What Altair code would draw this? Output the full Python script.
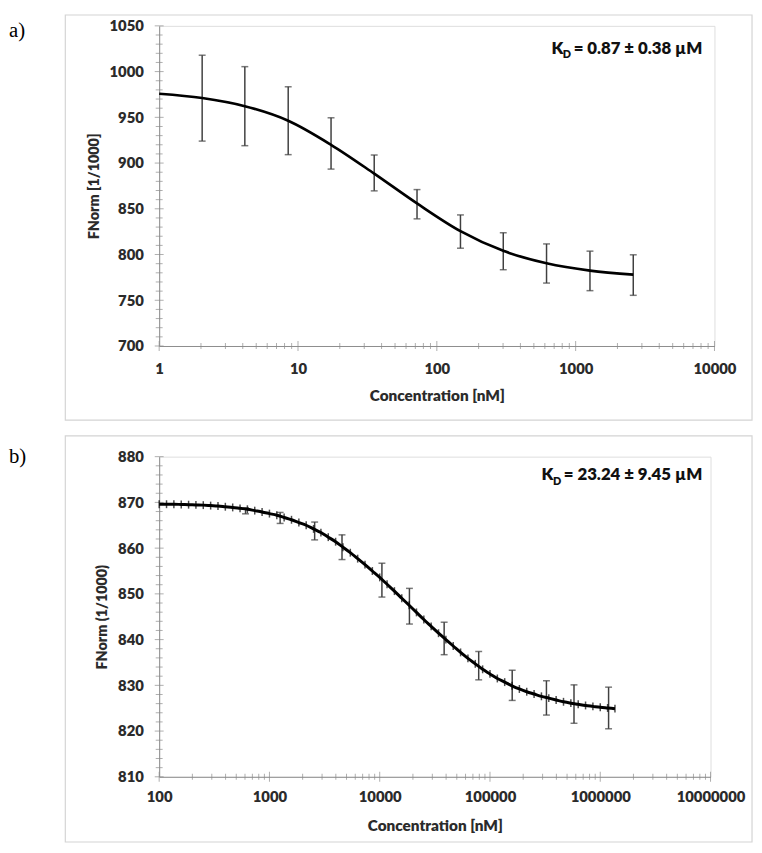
import altair as alt
import pandas as pd

# ---------------- Panel a data ----------------
a_conc = [2.04, 4.14, 8.5, 17.3, 35.4, 72, 148, 301, 617, 1268, 2600]
a_low = [924.0, 919.0, 909.2, 893.4, 869.6, 839.0, 806.9, 783.4, 768.8, 760.5, 755.4]
a_high = [1017.9, 1005.4, 983.4, 949.5, 908.8, 871.0, 843.3, 823.8, 811.6, 803.7, 799.7]
a_fit_x = [1, 2.04, 4.14, 8.5, 17.3, 35.4, 72, 148, 301, 617, 1268, 2600]
a_fit_y = [975.8, 971.1, 962.2, 946.3, 920.0, 888.5, 855.9, 825.6, 804.0, 790.4, 782.4, 778.1]

# ---------------- Panel b data ----------------
b_conc = [607, 1250, 2570, 4550, 10470, 18600, 38400, 79000, 159000, 325000, 578000, 1190000]
b_low = [867.5, 865.4, 861.8, 857.5, 849.3, 843.4, 836.7, 831.2, 826.7, 823.5, 821.7, 820.5]
b_high = [868.8, 867.8, 865.7, 862.9, 856.7, 851.2, 843.8, 837.4, 833.3, 831.0, 830.1, 829.6]
b_fit_x = [100, 116.6, 135.9, 158.5, 184.8, 215.4, 251.2, 292.9, 341.5, 398.1, 464.2, 541.2, 631.0, 735.6, 857.7,
           1000, 1166, 1359, 1585, 1848, 2154, 2512, 2929, 3415, 3981, 4642, 5412, 6310, 7356, 8577,
           10000, 11659, 13594, 15849, 18478, 21544, 25119, 29286, 34145, 39811, 46416, 54117, 63096, 73564, 85770,
           100000, 116590, 135940, 158490, 184780, 215440, 251190, 292860, 341450, 398110, 464160, 541170, 630960,
           735640, 857700, 1000000, 1165900, 1359400]
b_fit_y = [869.6, 869.6, 869.6, 869.55, 869.5, 869.45, 869.4, 869.3, 869.2, 869.05, 868.9, 868.7, 868.5, 868.2, 867.9,
           867.55, 867.2, 866.7, 866.2, 865.6, 865.0, 864.2, 863.4, 862.4, 861.4, 860.2, 859.0, 857.7, 856.4, 855.0,
           853.6, 852.1, 850.6, 849.05, 847.5, 845.95, 844.4, 842.9, 841.4, 840.0, 838.6, 837.2, 835.9, 834.7, 833.5,
           832.5, 831.5, 830.7, 829.9, 829.2, 828.6, 828.1, 827.6, 827.2, 826.8, 826.4, 826.1, 825.85, 825.6, 825.4,
           825.2, 825.05, 824.9]

# ---------------- Axis ticks ----------------
a_x_major = [1, 10, 100, 1000, 10000]
a_y_major = [700, 750, 800, 850, 900, 950, 1000, 1050]
b_x_major = [100, 1000, 10000, 100000, 1000000, 10000000]
b_y_major = [810, 820, 830, 840, 850, 860, 870, 880]

F = "Lato"
W = 800
TXT = "#2b2b2b"
AX = "#8c8c8c"
BAR = "#404040"
BOX = "#d4d4d4"


def minor_log(majors):
    out = []
    for m in majors[:-1]:
        for k in range(2, 10):
            out.append(m * k)
    return out


def minor_lin(majors, step):
    out = []
    for i in range(len(majors) - 1):
        v = majors[i] + step
        while v < majors[i + 1] - 1e-9:
            out.append(round(v, 6))
            v += step
    return out


def panel(conc, low, high, fit_x, fit_y, x_major, y_major, y_step, ytitle, kd, label,
          width, height, xlp, xtp, kd_x, kd_y, lab_y, curve_w, curve_ticks, box_top, box_bottom):
    xs = alt.Scale(type="log", domain=[x_major[0], x_major[-1]], nice=False)
    ys = alt.Scale(domain=[y_major[0], y_major[-1]], nice=False, zero=False)
    xaxis = alt.Axis(values=x_major, format="d", title="Concentration [nM]", ticks=False, grid=False,
                     domainColor=AX, domainWidth=1, labelFont=F, labelFontSize=15, labelFontWeight=W,
                     labelColor=TXT, labelPadding=xlp, titleFont=F, titleFontSize=15.5, titleFontWeight=W,
                     titleColor=TXT, titlePadding=xtp, labelFlush=False, labelOverlap=False)
    yaxis = alt.Axis(values=y_major, format="d", title=ytitle, ticks=False, grid=False,
                     domainColor=AX, domainWidth=1, labelFont=F, labelFontSize=15, labelFontWeight=W,
                     labelColor=TXT, labelPadding=16, titleFont=F, titleFontSize=14.5, titleFontWeight=W,
                     titleColor=TXT, titlePadding=8, labelOverlap=False)

    def X(f):
        return alt.X(f, type="quantitative", scale=xs, axis=xaxis)

    def Y(f):
        return alt.Y(f, type="quantitative", scale=ys, axis=yaxis)

    box = alt.Chart(alt.Data(values=[{}])).mark_rect(fillOpacity=0, stroke=BOX, strokeWidth=1.2).encode(
        x=alt.value(-95), x2=alt.value(600), y=alt.value(box_top), y2=alt.value(box_bottom))

    ymaj = pd.DataFrame({"x": [x_major[0]] * len(y_major), "y": y_major})
    ymin_vals = minor_lin(y_major, y_step)
    ymin = pd.DataFrame({"x": [x_major[0]] * len(ymin_vals), "y": ymin_vals})
    xmaj = pd.DataFrame({"x": x_major, "y": [y_major[0]] * len(x_major)})
    xmin_vals = minor_log(x_major)
    xmin = pd.DataFrame({"x": xmin_vals, "y": [y_major[0]] * len(xmin_vals)})

    t1 = alt.Chart(ymaj).mark_tick(orient="horizontal", size=9, thickness=1, color=AX).encode(x=X("x"), y=Y("y"))
    t2 = alt.Chart(ymin).mark_tick(orient="horizontal", size=7, thickness=1, color=AX).encode(x=X("x"), y=Y("y"))
    t3 = alt.Chart(xmaj).mark_tick(orient="vertical", size=10, thickness=1, color=AX).encode(x=X("x"), y=Y("y"))
    t4 = alt.Chart(xmin).mark_tick(orient="vertical", size=6, thickness=1, color=AX).encode(x=X("x"), y=Y("y"))

    eb = pd.DataFrame({"x": conc, "lo": low, "hi": high})
    rules = alt.Chart(eb).mark_rule(color=BAR, strokeWidth=1.5).encode(x=X("x"), y=Y("lo"), y2="hi")
    cap_lo = alt.Chart(eb).mark_tick(orient="horizontal", size=7, thickness=1.5, color=BAR).encode(x=X("x"), y=Y("lo"))
    cap_hi = alt.Chart(eb).mark_tick(orient="horizontal", size=7, thickness=1.5, color=BAR).encode(x=X("x"), y=Y("hi"))

    fit = pd.DataFrame({"x": fit_x, "y": fit_y})
    line = alt.Chart(fit).mark_line(color="black", strokeWidth=curve_w, interpolate="monotone").encode(
        x=X("x"), y=Y("y"))

    layers = [box, t1, t2, t3, t4, rules, cap_lo, cap_hi, line]
    if curve_ticks:
        layers.append(alt.Chart(fit).mark_tick(orient="vertical", size=8, thickness=1.5, color="black").encode(
            x=X("x"), y=Y("y")))

    k = alt.Chart(alt.Data(values=[{}])).mark_text(text="K", font=F, fontWeight=W, fontSize=17, align="left",
                                                   baseline="alphabetic", color="#111111").encode(
        x=alt.value(kd_x), y=alt.value(kd_y))
    d = alt.Chart(alt.Data(values=[{}])).mark_text(text="D", font=F, fontWeight=W, fontSize=11, align="left",
                                                   baseline="alphabetic", color="#111111").encode(
        x=alt.value(kd_x + 11.5), y=alt.value(kd_y + 5))
    rest = alt.Chart(alt.Data(values=[{}])).mark_text(text=kd, font=F, fontWeight=W, fontSize=17, align="left",
                                                      baseline="alphabetic", color="#111111").encode(
        x=alt.value(kd_x + 22.5), y=alt.value(kd_y))
    lab = alt.Chart(alt.Data(values=[{}])).mark_text(text=label, font="Liberation Serif", fontSize=21, align="left",
                                                     baseline="alphabetic", color="black").encode(
        x=alt.value(-152), y=alt.value(lab_y))
    layers += [k, d, rest, lab]
    return alt.layer(*layers).properties(width=width, height=height)


pa = panel(a_conc, a_low, a_high, a_fit_x, a_fit_y, a_x_major, a_y_major, 10, "FNorm [1/1000]",
           "= 0.87 ± 0.38 µM", "a)", 562, 324, 16, 12, 397, 28, 11, 2.7, False, -11, 399)
pb = panel(b_conc, b_low, b_high, b_fit_x, b_fit_y, b_x_major, b_y_major, 2, "FNorm (1/1000)",
           "= 23.24 ± 9.45 µM", "b)", 558, 324, 13, 14, 387, 24, 6, 3, True, -21, 390)

chart = alt.vconcat(pa, pb, spacing=112, bounds="flush").properties(padding=0).configure_view(
    stroke=None).configure(background="white")

chart.save("out.html", embed_options={"renderer": "svg", "actions": False})
